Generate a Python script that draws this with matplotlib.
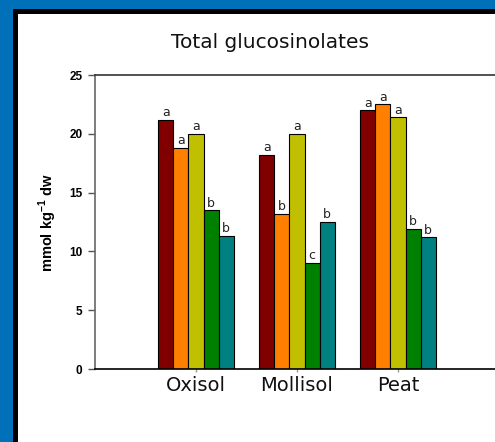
import numpy as np
import matplotlib.pyplot as plt
from matplotlib.patches import Rectangle

plt.rcParams['mathtext.fontset'] = 'custom'
plt.rcParams['mathtext.rm'] = 'Liberation Sans'
plt.rcParams['mathtext.bf'] = 'Liberation Sans:bold'

# data
soils = ['Oxisol', 'Mollisol', 'Peat']
oxisol = [21.2, 18.8, 20.0, 13.5, 11.3]
mollisol = [18.2, 13.2, 20.0, 9.0, 12.5]
peat = [22.0, 22.5, 21.4, 11.9, 11.2]
letters_oxisol = ['a', 'a', 'a', 'b', 'b']
letters_mollisol = ['a', 'b', 'a', 'c', 'b']
letters_peat = ['a', 'a', 'a', 'b', 'b']
yticks = [0, 5, 10, 15, 20, 25]

values = [oxisol, mollisol, peat]
letters = [letters_oxisol, letters_mollisol, letters_peat]
colors = ['#800000', '#ff8000', '#c0c000', '#008000', '#008080']

W, H = 495, 442
fig = plt.figure(figsize=(W / 100, H / 100), dpi=100)
fig.patch.set_facecolor('#0070b8')

# black frame and white panel
fig.patches.append(Rectangle((13 / W, 0), 1, 1 - 9 / H, transform=fig.transFigure,
                             facecolor='black', edgecolor='none', zorder=-2))
fig.patches.append(Rectangle((18 / W, 0), 1, 1 - 14 / H, transform=fig.transFigure,
                             facecolor='white', edgecolor='none', zorder=-1))

ax = fig.add_axes([95 / W, 1 - 369 / H, 404 / W, 294 / H])
ax.set_zorder(2)
ax.set_facecolor('none')

bw = 0.15
for i, (vals, lets) in enumerate(zip(values, letters)):
    for j, (v, l) in enumerate(zip(vals, lets)):
        x = i + 1 + (j - 2) * bw
        ax.bar(x, v, width=bw, color=colors[j], edgecolor='black', linewidth=0.8)
        ax.annotate(l, (x, v), xytext=(0, 0.5), textcoords='offset points',
                    ha='center', va='bottom', fontsize=9, family='DejaVu Sans',
                    color='#222222')

ax.set_xlim(0, 4)
ax.set_ylim(0, 25)
ax.set_yticks(yticks)
ax.set_yticklabels([str(t) for t in yticks], fontsize=8.5, fontweight='bold',
                   family='Liberation Sans')
ax.set_xticks([1, 2, 3])
ax.set_xticklabels(soils, fontsize=14, family='DejaVu Sans', color='#111111')
ax.tick_params(axis='y', length=5, width=1, color='#555555', pad=4)
ax.tick_params(axis='x', length=2, width=1, color='#999999', pad=3)

ax.spines['left'].set_color('#666666')
ax.spines['left'].set_linewidth(1.2)
ax.spines['top'].set_color('#333333')
ax.spines['top'].set_linewidth(1.2)
ax.spines['bottom'].set_color('black')
ax.spines['bottom'].set_linewidth(1.2)
ax.spines['right'].set_visible(False)

fig.text(270 / W, 1 - 43 / H, 'Total glucosinolates', ha='center', va='center',
         fontsize=14.5, family='DejaVu Sans', color='#111111')
fig.text(48 / W, 1 - 223 / H, r'mmol kg$^{\mathbf{-1}}$ dw', ha='center', va='center',
         rotation=90, fontsize=10.5, fontweight='bold', family='Liberation Sans')

fig.savefig('out.png', dpi=100, facecolor=fig.get_facecolor())
